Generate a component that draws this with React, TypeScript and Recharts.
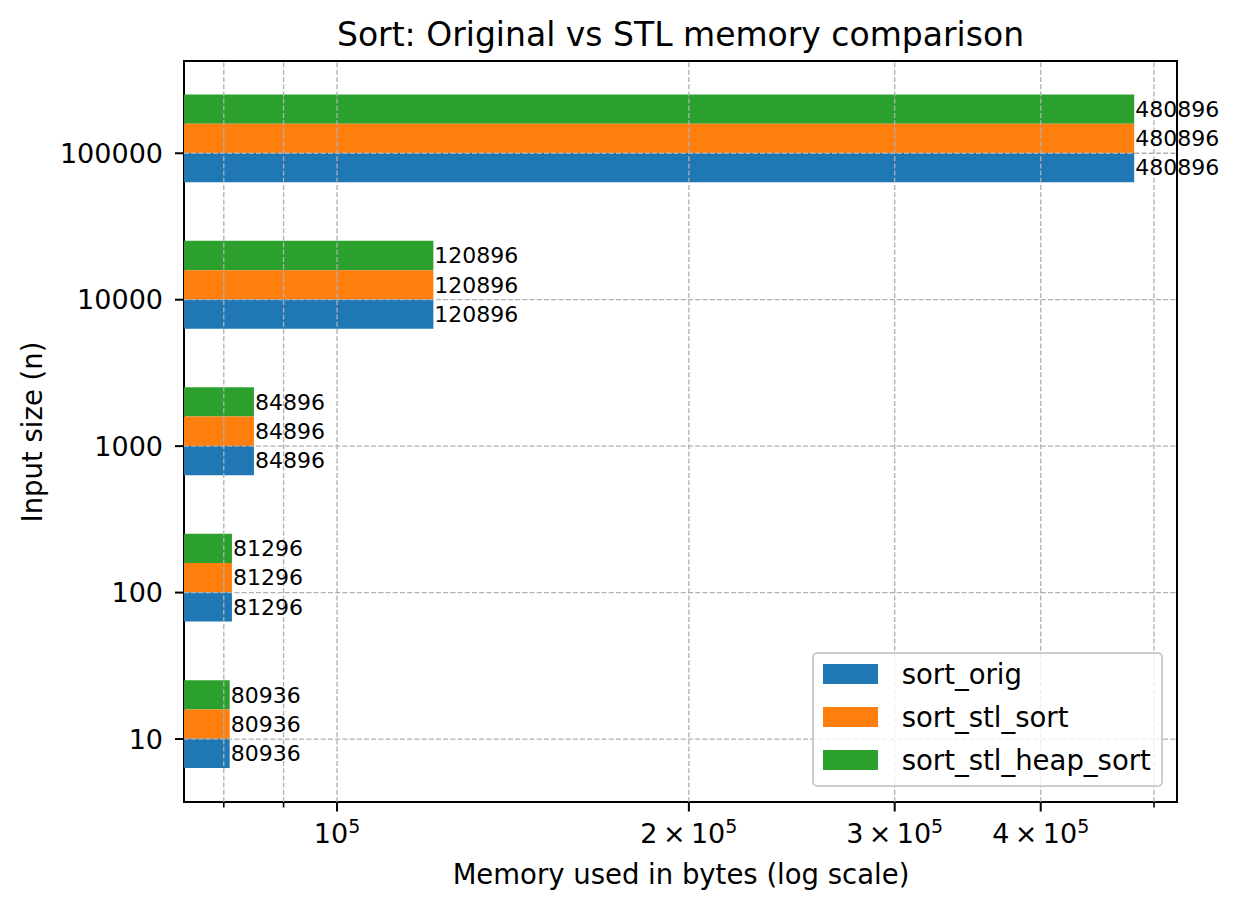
import React from "react";
import {
  BarChart,
  Bar,
  XAxis,
  YAxis,
  ReferenceLine,
  ReferenceArea,
  LabelList,
} from "recharts";

// ─── Data ─────────────────────────────────────────────────────────────────────

const inputSizes = ["10", "100", "1000", "10000", "100000"];
const sortOrig = [80936, 81296, 84896, 120896, 480896];
const sortStlSort = [80936, 81296, 84896, 120896, 480896];
const sortStlHeapSort = [80936, 81296, 84896, 120896, 480896];

const majorTicks = [1e5, 2e5, 3e5, 4e5];
const minorTicks = [8e4, 9e4, 5e5];

// ─── Constants ────────────────────────────────────────────────────────────────

const COLORS = {
  orig: "#1f77b4",
  stl: "#ff7f0e",
  heap: "#2ca02c",
} as const;

const FONT = "'DejaVu Sans', 'Noto Sans', sans-serif";
const X_DOMAIN: [number, number] = [73970, 523200];
const Y_DOMAIN: [number, number] = [-0.63, 4.43];
const BAR_SIZE = 29.3;
const GRID = { stroke: "#b0b0b0", strokeWidth: 1.3, strokeDasharray: "5 2.2" };

// index 0 of inputSizes sits at the bottom; the numeric y axis runs top → bottom
const rows = inputSizes.map((label, i) => ({
  label,
  pos: inputSizes.length - 1 - i - 0.1,
  orig: sortOrig[i],
  stl: sortStlSort[i],
  heap: sortStlHeapSort[i],
}));

const yTicks = inputSizes.map((_, i) => i);

// ─── Helpers ──────────────────────────────────────────────────────────────────

/** Bottom axis tick: long mark + mathtext-like label for majors, short mark for minors. */
function XTick(props: any) {
  const { x, y, payload } = props;
  const v: number = payload.value;
  const axisY = y - 9;
  const major = majorTicks.includes(v);
  const exp = Math.floor(Math.log10(v) + 1e-9);
  const mant = Math.round(v / Math.pow(10, exp));
  return (
    <g>
      <line
        x1={x}
        x2={x}
        y1={axisY}
        y2={axisY + (major ? 9.5 : 5.5)}
        stroke="#000"
        strokeWidth={major ? 2 : 1.6}
      />
      {major && (
        <text x={x} y={axisY + 41} textAnchor="middle" fontSize={27} fill="#000">
          {mant > 1 ? `${mant}\u2009\u00d7\u200910` : "10"}
          <tspan dy={-10} fontSize={19}>
            {exp}
          </tspan>
        </text>
      )}
    </g>
  );
}

/** Absolutely placed text, positioned by its baseline like matplotlib does. */
function PlacedText({
  x,
  baseline,
  size,
  children,
}: {
  x: number;
  baseline: number;
  size: number;
  children: React.ReactNode;
}) {
  return (
    <div
      style={{
        position: "absolute",
        left: x - 500,
        width: 1000,
        top: baseline - 0.846 * size,
        fontSize: size,
        lineHeight: `${size}px`,
        textAlign: "center",
        whiteSpace: "nowrap",
      }}
    >
      {children}
    </div>
  );
}

const legendItems = [
  { name: "sort_orig", color: COLORS.orig },
  { name: "sort_stl_sort", color: COLORS.stl },
  { name: "sort_stl_heap_sort", color: COLORS.heap },
];

function LegendBox() {
  return (
    <div
      style={{
        position: "absolute",
        left: 812,
        top: 652,
        width: 351,
        height: 135,
        boxSizing: "border-box",
        border: "2px solid #cccccc",
        borderRadius: 5,
        background: "rgba(255,255,255,0.8)",
      }}
    >
      {legendItems.map((item, i) => (
        <React.Fragment key={item.name}>
          <div
            style={{
              position: "absolute",
              left: 8.7,
              top: 10 + i * 43,
              width: 55.3,
              height: 19.7,
              background: item.color,
            }}
          />
          <div
            style={{
              position: "absolute",
              left: 87.7,
              top: 6.8 + i * 43,
              fontSize: 27.5,
              lineHeight: "27.5px",
              whiteSpace: "nowrap",
            }}
          >
            {item.name}
          </div>
        </React.Fragment>
      ))}
    </div>
  );
}

// ─── Component ────────────────────────────────────────────────────────────────

export default function App() {
  return (
    <div
      style={{
        position: "absolute",
        left: 0,
        top: 0,
        width: 1240,
        height: 910,
        background: "#fff",
        fontFamily: FONT,
        color: "#000",
      }}
    >
      <BarChart
        width={1240}
        height={910}
        data={rows}
        layout="vertical"
        barGap={0}
        margin={{ top: 61, right: 63, bottom: 58, left: 84 }}
      >
        <XAxis
          type="number"
          scale="log"
          domain={X_DOMAIN}
          allowDataOverflow
          ticks={[...minorTicks, ...majorTicks].sort((a, b) => a - b)}
          interval={0}
          tick={<XTick />}
          tickLine={false}
          axisLine={false}
          tickSize={9}
          tickMargin={0}
          height={50}
        />
        <YAxis
          type="number"
          dataKey="pos"
          domain={Y_DOMAIN}
          allowDataOverflow
          ticks={yTicks}
          interval={0}
          tickFormatter={(v: number) => inputSizes[inputSizes.length - 1 - Math.round(v)]}
          width={100}
          tickSize={9}
          tickMargin={12}
          axisLine={false}
          tickLine={{ stroke: "#000", strokeWidth: 2 }}
          tick={{ fill: "#000", fontSize: 27 }}
        />

        {/* top → bottom inside each group: heap sort, stl sort, original */}
        <Bar dataKey="heap" name="sort_stl_heap_sort" fill={COLORS.heap} barSize={BAR_SIZE} isAnimationActive={false}>
          <LabelList dataKey="heap" position="right" offset={1} fill="#000" fontSize={22} />
        </Bar>
        <Bar dataKey="stl" name="sort_stl_sort" fill={COLORS.stl} barSize={BAR_SIZE} isAnimationActive={false}>
          <LabelList dataKey="stl" position="right" offset={1} fill="#000" fontSize={22} />
        </Bar>
        <Bar dataKey="orig" name="sort_orig" fill={COLORS.orig} barSize={BAR_SIZE} isAnimationActive={false}>
          <LabelList dataKey="orig" position="right" offset={1} fill="#000" fontSize={22} />
        </Bar>

        {/* dashed grid drawn over the bars, like matplotlib's default */}
        {[...minorTicks, ...majorTicks].map((v) => (
          <ReferenceLine key={`gx${v}`} x={v} {...GRID} />
        ))}
        {yTicks.map((v) => (
          <ReferenceLine key={`gy${v}`} y={v} {...GRID} />
        ))}

        {/* axes frame */}
        <ReferenceArea
          x1={X_DOMAIN[0]}
          x2={X_DOMAIN[1]}
          y1={Y_DOMAIN[0]}
          y2={Y_DOMAIN[1]}
          fill="none"
          fillOpacity={0}
          stroke="#000"
          strokeWidth={2}
          ifOverflow="visible"
        />
      </BarChart>

      <PlacedText x={680.5} baseline={45.5} size={33}>
        Sort: Original vs STL memory comparison
      </PlacedText>
      <PlacedText x={681} baseline={884} size={27.5}>
        Memory used in bytes (log scale)
      </PlacedText>
      <div
        style={{
          position: "absolute",
          left: 32.7,
          top: 431.5,
          transform: "translate(-50%, -50%) rotate(-90deg)",
          fontSize: 27.5,
          lineHeight: "27.5px",
          whiteSpace: "nowrap",
        }}
      >
        Input size (n)
      </div>
      <LegendBox />
    </div>
  );
}
